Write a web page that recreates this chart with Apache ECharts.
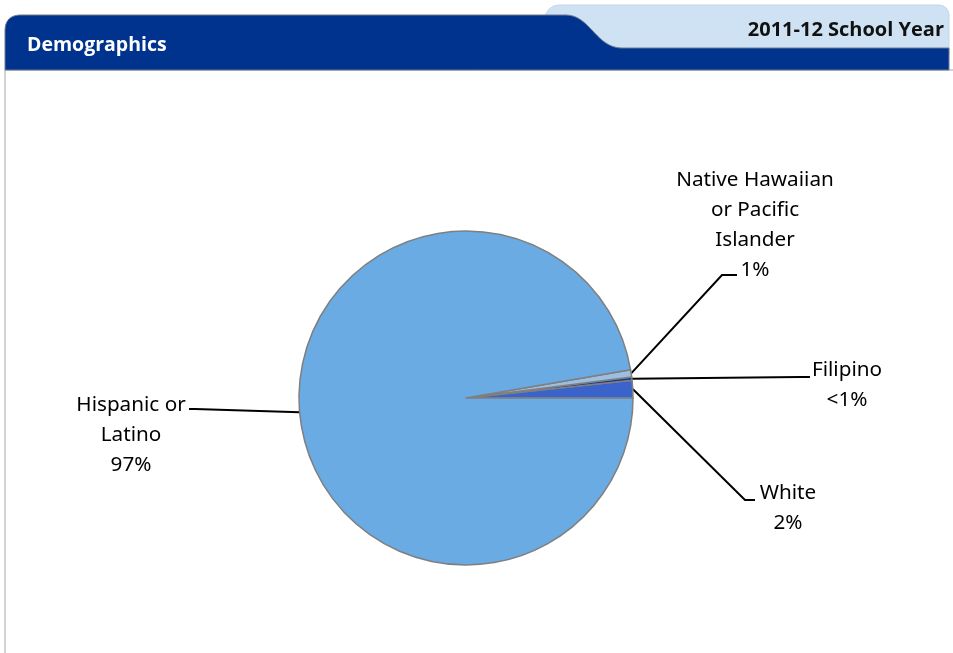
<!DOCTYPE html>
<html>
<head>
<meta charset="utf-8">
<script src="https://cdn.jsdelivr.net/npm/echarts@6/dist/echarts.min.js"></script>
<style>
html,body{margin:0;padding:0;background:#fff;}
#chart{width:953px;height:653px;}
</style>
</head>
<body>
<div id="chart"></div>
<script>
// ---- data ----
const categories = ['White', 'Filipino', 'Native Hawaiian\nor Pacific\nIslander', 'Hispanic or\nLatino'];
const values = [1.7, 0.3, 0.7, 97.3];
const percentLabels = ['2%', '<1%', '1%', '97%'];
const headerTitle = 'Demographics';
const headerYear = '2011-12 School Year';

// ---- styles / layout ----
const sliceColors = ['#3a64cc', '#1b3a8f', '#9cbfe0', '#69abe2'];
const labelLayouts = [
  { x: 788, y: 478, elbow: [745, 500], end: [755, 500] },
  { x: 847, y: 355, elbow: [800, 377], end: [810, 377] },
  { x: 755, y: 165, elbow: [722, 275], end: [737, 275] },
  { x: 131, y: 390, elbow: [195, 409], end: [189, 409] }
];

function cubic(p0, p1, p2, p3, n) {
  const pts = [];
  for (let i = 0; i <= n; i++) {
    const t = i / n, u = 1 - t;
    pts.push([
      u*u*u*p0[0] + 3*u*u*t*p1[0] + 3*u*t*t*p2[0] + t*t*t*p3[0],
      u*u*u*p0[1] + 3*u*u*t*p1[1] + 3*u*t*t*p2[1] + t*t*t*p3[1]
    ]);
  }
  return pts;
}
function quad(p0, p1, p2, n) {
  const pts = [];
  for (let i = 0; i <= n; i++) {
    const t = i / n, u = 1 - t;
    pts.push([u*u*p0[0] + 2*u*t*p1[0] + t*t*p2[0], u*u*p0[1] + 2*u*t*p1[1] + t*t*p2[1]]);
  }
  return pts;
}
const darkTabPts = [[5, 70]]
  .concat(quad([5, 31], [5, 15], [21, 15], 12))
  .concat(cubic([566, 15], [590, 15], [596, 48], [622, 48], 24))
  .concat([[949, 48], [949, 70]]);

const chart = echarts.init(document.getElementById('chart'));
const darkBlue = '#00338d';
const lightBlue = '#cfe2f3';

const option = {
  backgroundColor: '#ffffff',
  animation: false,
  graphic: [
    { type: 'rect', z: 1, shape: { x: 545, y: 5, width: 404, height: 50, r: [14, 10, 0, 0] },
      style: { fill: lightBlue, stroke: '#c4d6e8', lineWidth: 1 } },
    { type: 'polygon', z: 2, shape: { points: darkTabPts },
      style: { fill: darkBlue, stroke: '#6f7b90', lineWidth: 1 } },
    { type: 'rect', z: 0, shape: { x: 5, y: 70, width: 970, height: 620, r: [0, 0, 0, 14] },
      style: { fill: 'none', stroke: '#a6a6a6', lineWidth: 1 } },
    { type: 'text', z: 3, style: { text: headerTitle, x: 27, y: 45, fill: '#ffffff',
      font: 'bold 19.5px "Open Sans", "Noto Sans", sans-serif', textVerticalAlign: 'middle' } },
    { type: 'text', z: 3, style: { text: headerYear, x: 944, y: 30, fill: '#111111',
      font: 'bold 20px "Open Sans", "Noto Sans", sans-serif', textAlign: 'right', textVerticalAlign: 'middle' } }
  ],
  series: [{
    type: 'pie',
    center: [466, 398],
    radius: 167,
    startAngle: 0,
    clockwise: false,
    avoidLabelOverlap: false,
    itemStyle: { borderColor: '#7f7f7f', borderWidth: 1.5 },
    label: {
      show: true,
      position: 'outer',
      color: '#000000',
      fontFamily: '"Noto Sans", "Open Sans", sans-serif',
      fontSize: 20.7,
      lineHeight: 30,
      align: 'center',
      formatter: function (p) { return categories[p.dataIndex] + '\n' + percentLabels[p.dataIndex]; }
    },
    labelLine: { show: true, lineStyle: { color: '#000000', width: 2 }, length: 20, length2: 10 },
    labelLayout: function (params) {
      const L = labelLayouts[params.dataIndex];
      const start = params.labelLinePoints ? params.labelLinePoints[0] : L.elbow;
      return {
        x: L.x, y: L.y, align: 'center', verticalAlign: 'top',
        labelLinePoints: [start, L.elbow, L.end]
      };
    },
    data: categories.map(function (c, i) {
      return { name: c, value: values[i], itemStyle: { color: sliceColors[i] } };
    })
  }]
};
chart.setOption(option);
</script>
</body>
</html>
